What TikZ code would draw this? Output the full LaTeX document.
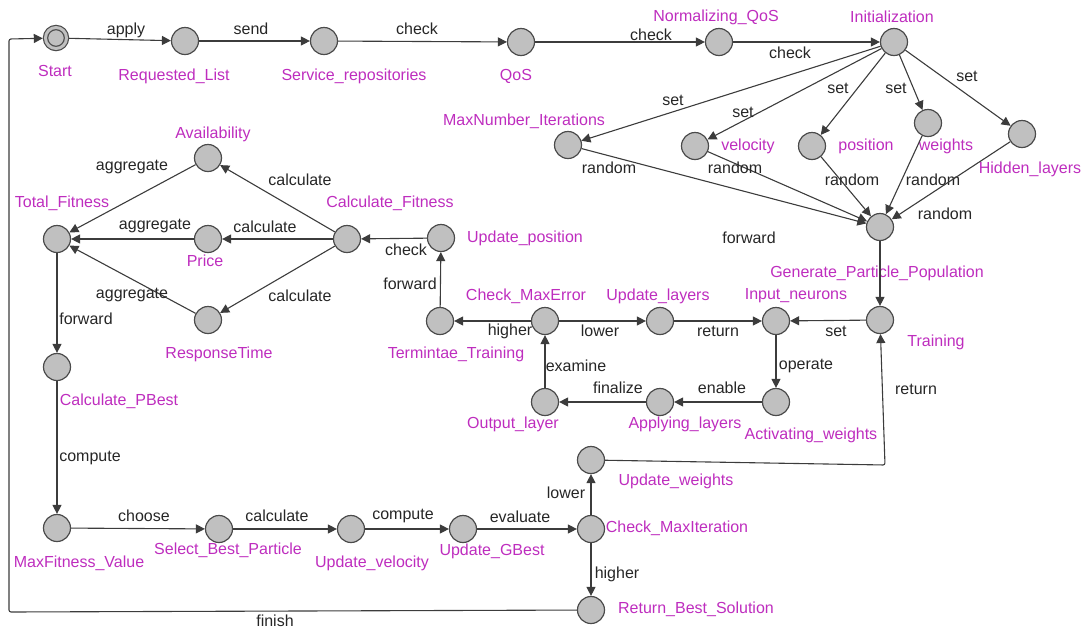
\documentclass[tikz,border=0pt]{standalone}
\usepackage{fontspec}
\setmainfont{Liberation Sans}
\usetikzlibrary{arrows.meta}
\definecolor{locfill}{RGB}{192,192,192}
\definecolor{locrim}{RGB}{75,75,75}
\definecolor{wire}{RGB}{60,60,60}
\definecolor{locpink}{RGB}{190,45,190}

\begin{document}
\begin{tikzpicture}[x=1pt, y=-1pt]
  \tikzstyle{loc}=[circle, minimum size = 27pt, inner sep = 0pt, fill = locfill, draw = locrim, line width = 1.2pt]
  \tikzstyle{startloc}=[loc, minimum size = 21pt, double = locfill, double distance = 3pt, outer sep = 2.7pt]
  \tikzstyle{connect}=[-{Triangle[length = 9pt, width = 9pt]}, draw = wire, line width = 1.1pt, rounded corners = 2pt]
  \tikzstyle{locname}=[text = locpink, font = \fontsize{16}{18}\selectfont, inner sep = 0pt]
  \tikzstyle{guard}=[text = black!85, font = \fontsize{16}{18}\selectfont, inner sep = 0pt]

  \useasboundingbox (0,0) rectangle (1085,630);

  % locations
  \node[startloc] (start) at (56,38) {};
  \node[loc] (reqlist) at (185,41) {};
  \node[loc] (servrep) at (324,41) {};
  \node[loc] (qos) at (521,42) {};
  \node[loc] (normqos) at (719,42) {};
  \node[loc] (initz) at (894,42) {};
  \node[loc] (maxiter) at (568,145) {};
  \node[loc] (velo) at (695,146) {};
  \node[loc] (posi) at (812,146) {};
  \node[loc] (wts) at (928,123) {};
  \node[loc] (hidden) at (1022,134) {};
  \node[loc] (genpop) at (880,227) {};
  \node[loc] (train) at (880,320) {};
  \node[loc] (inputn) at (776,321) {};
  \node[loc] (actw) at (776,402) {};
  \node[loc] (applyl) at (660,402) {};
  \node[loc] (outl) at (545,402) {};
  \node[loc] (chkerr) at (545,321) {};
  \node[loc] (updl) at (660,321) {};
  \node[loc] (termt) at (440,321) {};
  \node[loc] (updpos) at (441,238) {};
  \node[loc] (calcfit) at (347,239) {};
  \node[loc] (avail) at (208,158) {};
  \node[loc] (price) at (208,239) {};
  \node[loc] (resp) at (208,320) {};
  \node[loc] (totfit) at (57,239) {};
  \node[loc] (pbest) at (57,367) {};
  \node[loc] (maxfit) at (57,528) {};
  \node[loc] (selbest) at (219,529) {};
  \node[loc] (updvel) at (351,529) {};
  \node[loc] (gbest) at (463,529) {};
  \node[loc] (chkiter) at (591,529) {};
  \node[loc] (updw) at (591,460) {};
  \node[loc] (retbest) at (591,610) {};

  % location names
  \node[locname] (nStart) at (55,71) {Start};
  \node[locname] (nReq) at (174,76) {Requested\_List};
  \node[locname] (nServ) at (354,76) {Service\_repositories};
  \node[locname] (nQos) at (516,76) {QoS};
  \node[locname] (nNorm) at (716,17) {Normalizing\_QoS};
  \node[locname] (nInit) at (892,17) {Initialization};
  \node[locname] (nMaxIter) at (524,121) {MaxNumber\_Iterations};
  \node[locname] (nVelo) at (748,146) {velocity};
  \node[locname] (nPosi) at (866,146) {position};
  \node[locname] (nWts) at (946,146) {weights};
  \node[locname] (nHidden) at (1030,169) {Hidden\_layers};
  \node[locname] (nGen) at (877,273) {Generate\_Particle\_Population};
  \node[locname] (nTrain) at (936,342) {Training};
  \node[locname] (nInput) at (796,296) {Input\_neurons};
  \node[locname] (nActw) at (811,435) {Activating\_weights};
  \node[locname] (nApply) at (685,424) {Applying\_layers};
  \node[locname] (nOut) at (513,424) {Output\_layer};
  \node[locname] (nChkErr) at (526,296) {Check\_MaxError};
  \node[locname] (nUpdl) at (658,296) {Update\_layers};
  \node[locname] (nTerm) at (456,354) {Termintae\_Training};
  \node[locname] (nUpdPos) at (525,238) {Update\_position};
  \node[locname] (nCalcFit) at (390,203) {Calculate\_Fitness};
  \node[locname] (nAvail) at (213,134) {Availability};
  \node[locname] (nPrice) at (205,261) {Price};
  \node[locname] (nResp) at (219,354) {ResponseTime};
  \node[locname] (nTotFit) at (62,203) {Total\_Fitness};
  \node[locname] (nPBest) at (119,401) {Calculate\_PBest};
  \node[locname] (nMaxFit) at (79,563) {MaxFitness\_Value};
  \node[locname] (nSelBest) at (228,550) {Select\_Best\_Particle};
  \node[locname] (nUpdVel) at (372,563) {Update\_velocity};
  \node[locname] (nGBest) at (492,551) {Update\_GBest};
  \node[locname] (nChkIter) at (677,528) {Check\_MaxIteration};
  \node[locname] (nUpdW) at (676,481) {Update\_weights};
  \node[locname] (nRetBest) at (696,609) {Return\_Best\_Solution};

  % corners of the two long returns
  \coordinate (cw) at (885,465);
  \coordinate (cb) at (9,612);
  \coordinate (ct) at (9,39);

  % top row
  \draw[connect] (start) -- (reqlist) node[guard] (g1) at (126,30) {apply};
  \draw[connect] (reqlist) -- (servrep) node[guard] (g2) at (251,29) {send};
  \draw[connect] (servrep) -- (qos) node[guard] (g3) at (417,29) {check};
  \draw[connect] (qos) -- (normqos) node[guard] (g4) at (651,35) {check};
  \draw[connect] (normqos) -- (initz) node[guard] (g5) at (790,53) {check};

  % initialization
  \draw[connect] (initz) -- (maxiter) node[guard] (g6) at (673,100) {set};
  \draw[connect] (initz) -- (velo) node[guard] (g7) at (743,112) {set};
  \draw[connect] (initz) -- (posi) node[guard] (g8) at (838,88) {set};
  \draw[connect] (initz) -- (wts) node[guard] (g9) at (896,88) {set};
  \draw[connect] (initz) -- (hidden) node[guard] (g10) at (967,76) {set};
  \draw[connect] (maxiter) -- (genpop) node[guard] (g11) at (609,168) {random};
  \draw[connect] (velo) -- (genpop) node[guard] (g12) at (735,168) {random};
  \draw[connect] (posi) -- (genpop) node[guard] (g13) at (852,180) {random};
  \draw[connect] (wts) -- (genpop) node[guard] (g14) at (933,180) {random};
  \draw[connect] (hidden) -- (genpop) node[guard] (g15) at (945,214) {random};
  \draw[connect] (genpop) -- (train) node[guard] (g16) at (749,238) {forward};

  % training loop
  \draw[connect] (train) -- (inputn) node[guard] (g17) at (836,331) {set};
  \draw[connect] (inputn) -- (actw) node[guard] (g18) at (806,366) {operate};
  \draw[connect] (actw) -- (applyl) node[guard] (g19) at (722,388) {enable};
  \draw[connect] (applyl) -- (outl) node[guard] (g20) at (618,388) {finalize};
  \draw[connect] (outl) -- (chkerr) node[guard] (g21) at (576,366) {examine};
  \draw[connect] (chkerr) -- (termt) node[guard] (g22) at (510,331) {higher};
  \draw[connect] (chkerr) -- (updl) node[guard] (g23) at (600,331) {lower};
  \draw[connect] (updl) -- (inputn) node[guard] (g24) at (718,331) {return};
  \draw[connect] (termt) -- (updpos) node[guard] (g25) at (410,284) {forward};
  \draw[connect] (updpos) -- (calcfit) node[guard] (g26) at (406,250) {check};

  % fitness
  \draw[connect] (calcfit) -- (avail) node[guard] (g27) at (300,180) {calculate};
  \draw[connect] (calcfit) -- (price) node[guard] (g28) at (265,227) {calculate};
  \draw[connect] (calcfit) -- (resp) node[guard] (g29) at (300,296) {calculate};
  \draw[connect] (avail) -- (totfit) node[guard] (g30) at (132,167) {aggregate};
  \draw[connect] (price) -- (totfit) node[guard] (g31) at (155,226) {aggregate};
  \draw[connect] (resp) -- (totfit) node[guard] (g32) at (132,295) {aggregate};
  \draw[connect] (totfit) -- (pbest) node[guard] (g33) at (86,319) {forward};
  \draw[connect] (pbest) -- (maxfit) node[guard] (g34) at (90,458) {compute};

  % bottom row
  \draw[connect] (maxfit) -- (selbest) node[guard] (g35) at (144,516) {choose};
  \draw[connect] (selbest) -- (updvel) node[guard] (g36) at (277,516) {calculate};
  \draw[connect] (updvel) -- (gbest) node[guard] (g37) at (403,516) {compute};
  \draw[connect] (gbest) -- (chkiter) node[guard] (g38) at (520,517) {evaluate};
  \draw[connect] (chkiter) -- (updw) node[guard] (g39) at (566,493) {lower};
  \draw[connect] (chkiter) -- (retbest) node[guard] (g40) at (617,574) {higher};
  \draw[connect] (updw) -- (cw) -- (train) node[guard] (g41) at (916,389) {return};
  \draw[connect] (retbest) -- (cb) -- (ct) -- (start) node[guard] (g42) at (275,621) {finish};

\end{tikzpicture}
\end{document}
